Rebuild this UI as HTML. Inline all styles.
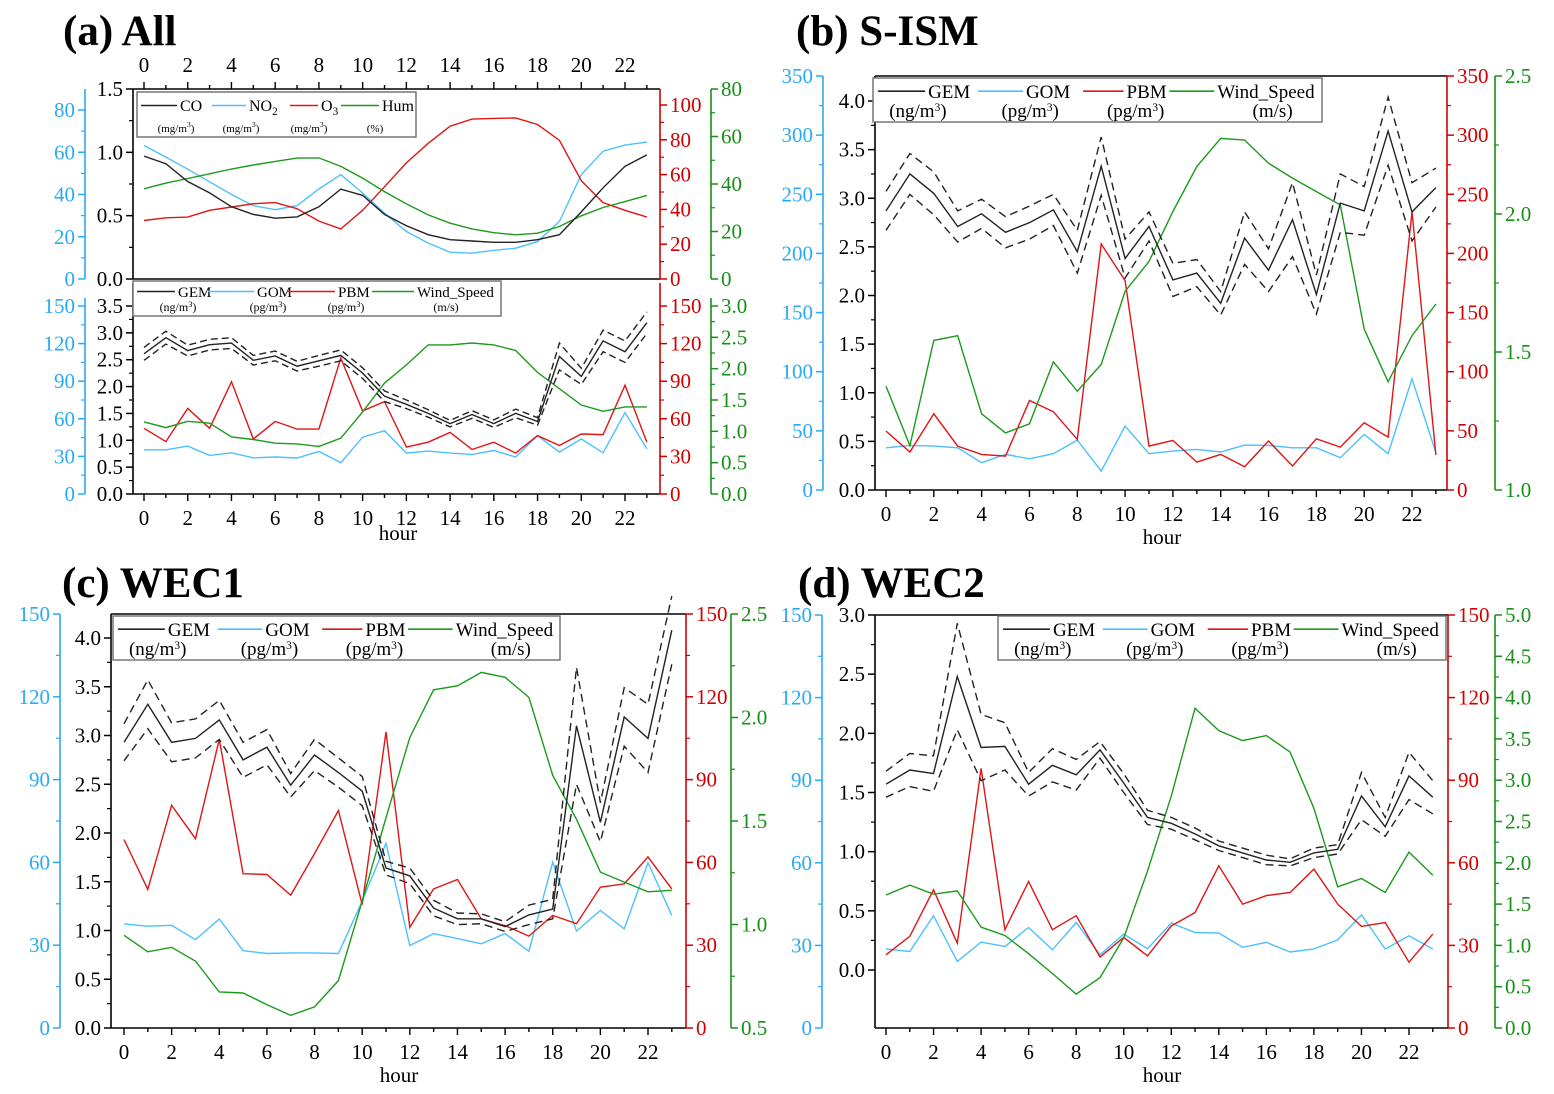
<!DOCTYPE html>
<html><head><meta charset="utf-8">
<style>
html,body{margin:0;padding:0;background:#fff;}
svg{display:block;font-family:"Liberation Serif",serif;}
</style></head>
<body>
<svg id="fig" width="1554" height="1094" viewBox="0 0 1554 1094" xmlns="http://www.w3.org/2000/svg">
<rect x="0" y="0" width="1554" height="1094" fill="#fff"/>
<text x="63" y="45" font-size="43" font-weight="bold">(a) All</text>
<text x="796" y="45" font-size="43" font-weight="bold">(b) S-ISM</text>
<text x="62" y="597" font-size="43" font-weight="bold">(c) WEC1</text>
<text x="798" y="597" font-size="43" font-weight="bold">(d) WEC2</text>
</svg>
<script>
const hours=[0,1,2,3,4,5,6,7,8,9,10,11,12,13,14,15,16,17,18,19,20,21,22,23];
const hourTicks=[0,2,4,6,8,10,12,14,16,18,20,22];
// (a) top
const aCO=[0.97,0.91,0.77,0.68,0.57,0.51,0.48,0.49,0.57,0.71,0.66,0.51,0.42,0.35,0.31,0.30,0.29,0.29,0.31,0.35,0.53,0.72,0.89,0.98];
const aNO2=[63.2,57.7,52,46,40,34.7,32.8,34.7,42.6,49.4,40.7,31.2,22.5,17,12.7,12.2,13.6,14.6,17.7,27.2,49.4,60.5,63.4,64.8];
const aO3=[33.6,35.2,35.6,39.5,41.4,43.3,43.9,40.4,33.3,28.8,39.5,53,66.7,78,87.8,91.9,92.3,92.6,88.8,79.7,56.5,43.9,39.5,35.6];
const aHum=[38,40.4,42.3,44.3,46.3,48,49.5,50.9,51,47.4,42.5,36.8,31.6,27,23.5,21.1,19.5,18.6,19.3,22.1,26.6,30.1,32.6,35.2];
// (a) bottom
const aGEM=[2.61,2.91,2.67,2.78,2.81,2.49,2.57,2.38,2.48,2.58,2.25,1.82,1.67,1.50,1.31,1.48,1.31,1.50,1.35,2.56,2.19,2.85,2.65,3.19];
const aGEMci=[0.12,0.12,0.1,0.1,0.1,0.09,0.09,0.09,0.1,0.1,0.1,0.1,0.08,0.07,0.06,0.07,0.07,0.08,0.07,0.25,0.15,0.2,0.2,0.2];
const aGOM=[35.3,35.3,38.2,30.8,32.9,28.9,29.5,28.7,34,25,45.3,50.5,32.6,34.2,32.6,31.6,34.7,29.5,46.6,33.4,43.9,32.9,65,36];
const aPBM=[52.4,41.8,68.2,52.4,89.5,43.9,57.9,51.8,51.8,108.4,66.3,73.7,37.4,41.3,49.2,35.5,41.3,32.6,46.6,38.7,47.9,47.4,86.8,41.3];
const aWind=[1.15,1.06,1.16,1.13,0.91,0.87,0.81,0.80,0.76,0.89,1.31,1.77,2.06,2.38,2.38,2.41,2.38,2.29,1.94,1.68,1.42,1.32,1.39,1.39];
// (b)
const bGEM=[2.87,3.25,3.05,2.71,2.84,2.65,2.75,2.88,2.45,3.33,2.38,2.71,2.16,2.23,1.92,2.59,2.26,2.78,2.01,2.95,2.87,3.69,2.86,3.11];
const bGEMci=[0.2,0.21,0.22,0.16,0.15,0.16,0.17,0.16,0.22,0.3,0.2,0.15,0.17,0.14,0.12,0.27,0.22,0.38,0.2,0.3,0.25,0.35,0.3,0.2];
const bGOM=[35.7,37.7,37.1,35.7,23.1,30.1,26.4,30.7,42.2,16,54,30.7,32.9,34.3,32.1,38,37.7,35.7,35.7,27.3,47,30.7,94,31.5];
const bPBM=[49.8,32.1,64.4,37.1,30.1,28.7,75.7,66.1,42.8,208,177,37.1,41.9,23.6,30.1,19.7,41.4,20.3,43.3,36.3,56.8,44.7,235,29.5];
const bWind=[1.376,1.161,1.542,1.559,1.276,1.207,1.240,1.464,1.358,1.455,1.720,1.828,2.009,2.172,2.274,2.268,2.184,2.130,2.081,2.033,1.583,1.392,1.559,1.674];
// (c)
const cGEM=[2.93,3.32,2.93,2.97,3.16,2.75,2.88,2.49,2.80,2.62,2.43,1.64,1.56,1.23,1.12,1.12,1.04,1.16,1.22,3.10,2.11,3.19,2.97,4.08];
const cGEMci=[0.19,0.25,0.2,0.2,0.2,0.18,0.18,0.12,0.16,0.15,0.15,0.07,0.08,0.08,0.06,0.05,0.05,0.1,0.1,0.6,0.2,0.3,0.35,0.35];
const cGOM=[37.7,36.9,37.2,32,39.5,28,27,27.2,27.2,27,46,66.9,29.9,34.2,32.4,30.5,34.2,27.8,60.1,35.1,42.6,35.9,59.9,40.8];
const cPBM=[68.3,50.2,80.7,68.6,104.6,55.9,55.6,48.1,63.2,78.8,44.7,107.3,36.5,50.4,53.8,39.5,37.1,33.3,40.8,37.8,51,52.2,62,50.4];
const cWind=[0.948,0.868,0.890,0.823,0.674,0.669,0.613,0.561,0.602,0.729,1.113,1.516,1.903,2.134,2.153,2.218,2.194,2.097,1.721,1.508,1.253,1.205,1.158,1.165];
// (d)
const dGEM=[1.57,1.69,1.66,2.48,1.88,1.89,1.57,1.73,1.65,1.86,1.58,1.29,1.24,1.15,1.05,0.99,0.93,0.91,0.99,1.02,1.47,1.21,1.64,1.46];
const dGEMci=[0.11,0.14,0.15,0.45,0.28,0.2,0.1,0.14,0.13,0.07,0.08,0.06,0.05,0.05,0.04,0.04,0.04,0.03,0.04,0.04,0.2,0.08,0.2,0.14];
const dGOM=[28.7,27.8,40.8,24.2,31.2,29.6,36.5,28.4,38.3,26.6,34.1,28.8,38.1,34.7,34.5,29.3,31.1,27.6,28.7,32,41.1,28.7,33.5,28.7];
const dPBM=[26.6,33.3,50.2,30.8,94.3,35.7,53.2,35.7,40.8,25.8,32.9,26.2,37.1,41.9,58.9,45,48.1,49.2,57.7,45,36.9,38.3,23.9,34.1];
const dWind=[1.61,1.73,1.62,1.66,1.22,1.12,0.90,0.66,0.41,0.61,1.09,1.90,2.81,3.87,3.60,3.48,3.54,3.34,2.66,1.71,1.81,1.64,2.13,1.85];

const NS='http://www.w3.org/2000/svg';
const svg=document.getElementById('fig');
const CB='#4cc0ff',CR='#e01515',CG='#1c9a1c',CK='#222';
const AB='#2aaaf5',AR='#d00000',AG='#169016';
function mk(tag,attrs,parent){const e=document.createElementNS(NS,tag);for(const k in attrs)e.setAttribute(k,attrs[k]);(parent||svg).appendChild(e);return e;}
function lin(v0,y0,v1,y1){return v=>y0+(v-v0)*(y1-y0)/(v1-v0);}
function line(x1,y1,x2,y2,c,w,name){const l=mk('line',{x1,y1,x2,y2,stroke:c,'stroke-width':w||1.5});


return l;}
function txt(x,y,s,opt,name){const t=mk('text',Object.assign({x,y,'font-size':21},opt||{}));t.textContent=s;


return t;}
function series(vals,xm,ym,c,name,dash){
  const pts=vals.map((v,i)=>xm(hours[i]).toFixed(1)+','+ym(v).toFixed(1)).join(' ');
  const p=mk('polyline',{points:pts,fill:'none',stroke:c,'stroke-width':1.4,'stroke-dasharray':dash||'none'});
  
  
}
function vaxis(x,yt,yb,ticks,ym,color,side,dec,name){
  line(x,yt,x,yb,color,1.6,name+'-line');
  const s=side==='L'?-1:1;
  ticks.forEach((v,i)=>{const y=ym(v);
    line(x,y,x+s*7,y,color,1.5,name+'-tick');
    txt(x+s*10,y+7,v.toFixed(dec),{'text-anchor':side==='L'?'end':'start',fill:color},name+'-label');
    if(i<ticks.length-1){const ym2=(y+ym(ticks[i+1]))/2;line(x,ym2,x+s*4,ym2,color,1.2,name+'-minor-tick');}
  });
}
function haxis(xl,xr,y,xm,labelY,dir,name){
  line(xl,y,xr,y,'#000',1.6,name+'-line');
  hours.forEach(h=>{const big=h%2===0;line(xm(h),y,xm(h),y+dir*(big?7:4),'#000',1.4,name+'-tick');});
  hourTicks.forEach(h=>txt(xm(h),labelY,String(h),{'text-anchor':'middle'},name+'-label'));
}
function legend(x0,y0,x1,y1,items,fs,ufs,name){
  const r=mk('rect',{x:x0,y:y0,width:x1-x0,height:y1-y0,fill:'#fff',stroke:'#777','stroke-width':1.5});
  
  
  const ly=y0+(y1-y0)*0.3;
  items.forEach(it=>{
    line(it.lx,ly,it.lx+it.ll,ly,it.c,1.6,name+'-swatch');
    const t=txt(it.lx+it.ll+3,ly+fs*0.35,'',{'font-size':fs},name+'-entry');
    t.innerHTML=it.label;
    const u=txt(it.ux,y1-5,'',{'font-size':ufs,'text-anchor':'middle'},name+'-unit');
    u.innerHTML=it.unit;
  });
}
const sup3='<tspan dy="-6" font-size="0.6em">3</tspan><tspan dy="6">)</tspan>';
function ticks(a,b,s){const r=[];for(let v=a;v<=b+1e-9;v+=s)r.push(Math.round(v*100)/100);return r;}

// ===== Panel (a) =====
{
  const xm=lin(0,144,22,625);
  const yK=lin(0,279,1.5,89),yB=lin(0,279,80,110),yR=lin(0,279,100,105),yG=lin(0,279,80,89);
  line(133,89,660,89,'#000',1.6,'a-top-frame');
  hours.forEach(h=>line(xm(h),89,xm(h),89-(h%2===0?7:4),'#000',1.4,'a-top-xaxis-tick'));
  hourTicks.forEach(h=>txt(xm(h),72,String(h),{'text-anchor':'middle'},'a-top-xaxis-label'));
  line(133,279,660,279,'#000',1.6,'a-top-bottom-frame');
  vaxis(133,89,279,ticks(0,1.5,0.5),yK,'#000','L',1,'a-top-co-axis');
  vaxis(85,89,279,ticks(0,80,20),yB,AB,'L',0,'a-top-no2-axis');
  vaxis(660,89,279,ticks(0,100,20),yR,AR,'R',0,'a-top-o3-axis');
  vaxis(711,89,279,ticks(0,80,20),yG,AG,'R',0,'a-top-hum-axis');
  series(aNO2,xm,yB,CB,'no2-line');
  series(aO3,xm,yR,CR,'o3-line');
  series(aHum,xm,yG,CG,'hum-line');
  series(aCO,xm,yK,CK,'co-line');
  const su='<tspan dy="-5" font-size="0.7em">3</tspan><tspan dy="5">)</tspan>';
  legend(137,92,416,137,[
    {lx:141,ll:36,c:CK,label:'CO',ux:176,unit:'(mg/m'+su},
    {lx:212,ll:34,c:CB,label:'NO<tspan dy="4" font-size="0.7em">2</tspan>',ux:241,unit:'(mg/m'+su},
    {lx:290,ll:28,c:CR,label:'O<tspan dy="4" font-size="0.7em">3</tspan>',ux:309,unit:'(mg/m'+su},
    {lx:341,ll:38,c:CG,label:'Hum',ux:375,unit:'(%)'}],16,11,'a-top-legend');
  const yK2=lin(0,494,3.5,306),yB2=lin(0,494,150,306),yR2=lin(0,494,150,306),yG2=lin(0,494,3,306);
  haxis(133,660,494,xm,525,1,'a-bottom-xaxis');
  vaxis(133,283,494,ticks(0,3.5,0.5),yK2,'#000','L',1,'a-bottom-gem-axis');
  vaxis(85,298,494,ticks(0,150,30),yB2,AB,'L',0,'a-bottom-gom-axis');
  vaxis(660,283,494,ticks(0,150,30),yR2,AR,'R',0,'a-bottom-pbm-axis');
  vaxis(711,298,494,ticks(0,3,0.5),yG2,AG,'R',1,'a-bottom-wind-axis');
  series(aGOM,xm,yB2,CB,'a-gom-line');
  series(aPBM,xm,yR2,CR,'a-pbm-line');
  series(aWind,xm,yG2,CG,'a-wind-line');
  series(aGEM.map((v,i)=>v+aGEMci[i]),xm,yK2,CK,'a-gem-upper-ci','7,4');
  series(aGEM.map((v,i)=>v-aGEMci[i]),xm,yK2,CK,'a-gem-lower-ci','7,4');
  series(aGEM,xm,yK2,CK,'a-gem-line');
  const su2='<tspan dy="-4" font-size="0.7em">3</tspan><tspan dy="4">)</tspan>';
  legend(133,281,501,316,[
    {lx:137,ll:38,c:CK,label:'GEM',ux:178,unit:'(ng/m'+su2},
    {lx:208,ll:46,c:CB,label:'GOM',ux:268,unit:'(pg/m'+su2},
    {lx:287,ll:48,c:CR,label:'PBM',ux:346,unit:'(pg/m'+su2},
    {lx:372,ll:42,c:CG,label:'Wind_Speed',ux:446,unit:'(m/s)'}],15,12,'a-bottom-legend');
  txt(398,540,'hour',{'text-anchor':'middle'},'a-xaxis-title');
}
function panel(P){
  const xm=lin(0,P.h0,22,P.h22);
  const yK=lin(0,P.kb,P.kv,P.kt),yB=lin(0,P.yb,P.bv,P.yt),yR=lin(0,P.yb,P.rv,P.yt),yG=lin(P.g0,P.yb,P.g1,P.yt);
  line(P.xl,P.yt,P.xr,P.yt,'#000',1.6,P.n+'-top-frame');
  haxis(P.xl,P.xr,P.yb,xm,P.yb+31,1,P.n+'-xaxis');
  vaxis(P.xl,P.yt,P.yb,P.kt2,yK,'#000','L',1,P.n+'-gem-axis');
  vaxis(P.bx,P.yt,P.yb,P.bt,yB,AB,'L',0,P.n+'-gom-axis');
  vaxis(P.xr,P.yt,P.yb,P.rt,yR,AR,'R',0,P.n+'-pbm-axis');
  vaxis(P.gx,P.yt,P.yb,P.gt,yG,AG,'R',1,P.n+'-wind-axis');
  series(P.gom,xm,yB,CB,P.n+'-gom-line');
  series(P.pbm,xm,yR,CR,P.n+'-pbm-line');
  series(P.wind,xm,yG,CG,P.n+'-wind-line');
  series(P.gem.map((v,i)=>v+P.ci[i]),xm,yK,CK,P.n+'-gem-upper-ci','8,5');
  series(P.gem.map((v,i)=>v-P.ci[i]),xm,yK,CK,P.n+'-gem-lower-ci','8,5');
  series(P.gem,xm,yK,CK,P.n+'-gem-line');
  const L=P.lg,w=L[2]-L[0];
  legend(L[0],L[1],L[2],L[3],[
    {lx:L[0]+w*0.011,ll:w*0.105,c:CK,label:'GEM',ux:L[0]+w*0.10,unit:'(ng/m'+sup3},
    {lx:L[0]+w*0.234,ll:w*0.1,c:CB,label:'GOM',ux:L[0]+w*0.35,unit:'(pg/m'+sup3},
    {lx:L[0]+w*0.468,ll:w*0.09,c:CR,label:'PBM',ux:L[0]+w*0.585,unit:'(pg/m'+sup3},
    {lx:L[0]+w*0.66,ll:w*0.1,c:CG,label:'Wind_Speed',ux:L[0]+w*0.89,unit:'(m/s)'}],19,19,P.n+'-legend');
  txt(P.hx,P.yb+54,'hour',{'text-anchor':'middle'},P.n+'-xaxis-title');
}
panel({n:'b',h0:886,h22:1412,xl:875,xr:1447,yt:76,yb:490,kb:490,kv:4,kt:101,kt2:ticks(0,4,0.5),
  bx:823,bv:350,bt:ticks(0,350,50),rv:350,rt:ticks(0,350,50),gx:1495,g0:1,g1:2.5,gt:ticks(1,2.5,0.5),
  gem:bGEM,ci:bGEMci,gom:bGOM,pbm:bPBM,wind:bWind,lg:[873,78,1322,122],hx:1162});
panel({n:'c',h0:124,h22:648,xl:111,xr:686,yt:614,yb:1028,kb:1028,kv:4,kt:638,kt2:ticks(0,4,0.5),
  bx:60,bv:150,bt:ticks(0,150,30),rv:150,rt:ticks(0,150,30),gx:731,g0:0.5,g1:2.5,gt:ticks(0.5,2.5,0.5),
  gem:cGEM,ci:cGEMci,gom:cGOM,pbm:cPBM,wind:cWind,lg:[113,616,560,660],hx:399});
panel({n:'d',h0:886,h22:1409,xl:875,xr:1448,yt:615,yb:1028,kb:970,kv:3,kt:615,kt2:ticks(0,3,0.5),
  bx:822,bv:150,bt:ticks(0,150,30),rv:150,rt:ticks(0,150,30),gx:1495,g0:0,g1:5,gt:ticks(0,5,0.5),
  gem:dGEM,ci:dGEMci,gom:dGOM,pbm:dPBM,wind:dWind,lg:[998,616,1446,660],hx:1162});
</script>
</body></html>
